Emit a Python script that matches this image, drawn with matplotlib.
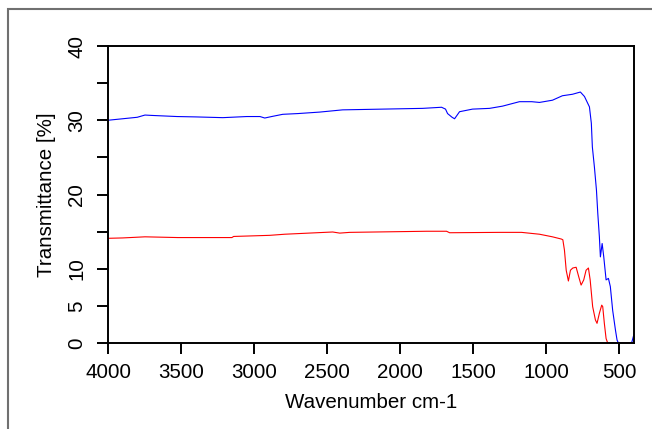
import matplotlib
matplotlib.use("Agg")
import matplotlib.pyplot as plt
from matplotlib.patches import Rectangle

plt.rcParams["font.family"] = ["Liberation Sans", "DejaVu Sans"]

# Spectrum 1 (blue)
wn_blue = [4000, 3900, 3800, 3747, 3700, 3528, 3400, 3214, 3050, 2960, 2927,
           2880, 2804, 2700, 2551, 2394, 2120, 1847, 1717, 1690, 1676, 1645,
           1628, 1594, 1505, 1389, 1300, 1184, 1100, 1047, 958, 890, 821, 767,
           739, 705, 692, 685, 671, 657, 648, 637, 630, 618, 607, 591, 575,
           562, 546, 527, 516, 507, 432, 415, 400]
t_blue = [30.0, 30.2, 30.4, 30.7, 30.65, 30.5, 30.45, 30.35, 30.5, 30.5, 30.3,
          30.5, 30.8, 30.9, 31.1, 31.4, 31.5, 31.6, 31.75, 31.5, 30.9, 30.4,
          30.2, 31.15, 31.5, 31.6, 31.9, 32.5, 32.5, 32.4, 32.7, 33.3, 33.5, 33.8,
          33.2, 31.8, 29.6, 26.4, 23.7, 20.6, 17.5, 14.3, 11.6, 13.4, 11.6, 8.5, 8.7,
          7.6, 4.4, 1.75, 0.4, 0.0, 0.0, 0.1, 1.2]

# Spectrum 2 (red)
wn_red = [4000, 3900, 3747, 3521, 3152, 3140, 2893, 2790, 2462, 2414, 2346,
          1819, 1683, 1662, 1320, 1170, 1047, 958, 897, 887, 876, 864, 849,
          835, 819, 796, 778, 762, 744, 728, 712, 700, 683, 664, 653, 637, 621,
          614, 603, 591, 580, 400]
t_red = [14.1, 14.15, 14.3, 14.2, 14.2, 14.35, 14.5, 14.65, 14.95, 14.8, 14.9,
         15.05, 15.05, 14.85, 14.9, 14.9, 14.65, 14.3, 14.0, 13.9, 12.5, 9.8, 8.35,
         9.8, 10.1, 10.2, 8.9, 7.8, 8.5, 9.8, 10.1, 8.5, 4.9, 3.1, 2.65, 4.0, 5.1,
         4.9, 2.65, 0.6, 0.0, 0.0]

x_ticks = [4000, 3500, 3000, 2500, 2000, 1500, 1000, 500]
y_ticks = [0, 5, 10, 15, 20, 25, 30, 35, 40]
y_labels = ["0", "5", "10", "", "20", "", "30", "", "40"]

fig = plt.figure(figsize=(6.52, 4.29), dpi=100)
ax = fig.add_axes([108 / 652, 1 - 343 / 429, (634 - 108) / 652, (343 - 46) / 429])

ax.plot(wn_blue, t_blue, color="#0000ff", lw=0.8)
ax.plot(wn_red, t_red, color="#ff0000", lw=0.8)

ax.set_xlim(4000, 400)
ax.set_ylim(0, 40)
ax.set_xticks(x_ticks)
ax.set_xticklabels([str(v) for v in x_ticks])
ax.set_yticks(y_ticks)
ax.set_yticklabels(y_labels, rotation=90, va="center")

for s in ax.spines.values():
    s.set_linewidth(1.4)
ax.tick_params(axis="both", direction="out", length=7.6, width=1.4,
               labelsize=14.8, colors="black")
ax.tick_params(axis="x", pad=6.5)
ax.tick_params(axis="y", pad=8)

ax.set_xlabel("Wavenumber cm-1", fontsize=14.8, labelpad=8)
ax.set_ylabel("Transmittance [%]", fontsize=14.8, labelpad=8)

# outer frame (partly cropped)
fig.add_artist(Rectangle((8 / 652, -0.5), 2, 1 - 9 / 429 + 0.5,
                         transform=fig.transFigure, fill=False,
                         ec="#707070", lw=1.5, clip_on=False))

fig.savefig("out.png", dpi=100)
